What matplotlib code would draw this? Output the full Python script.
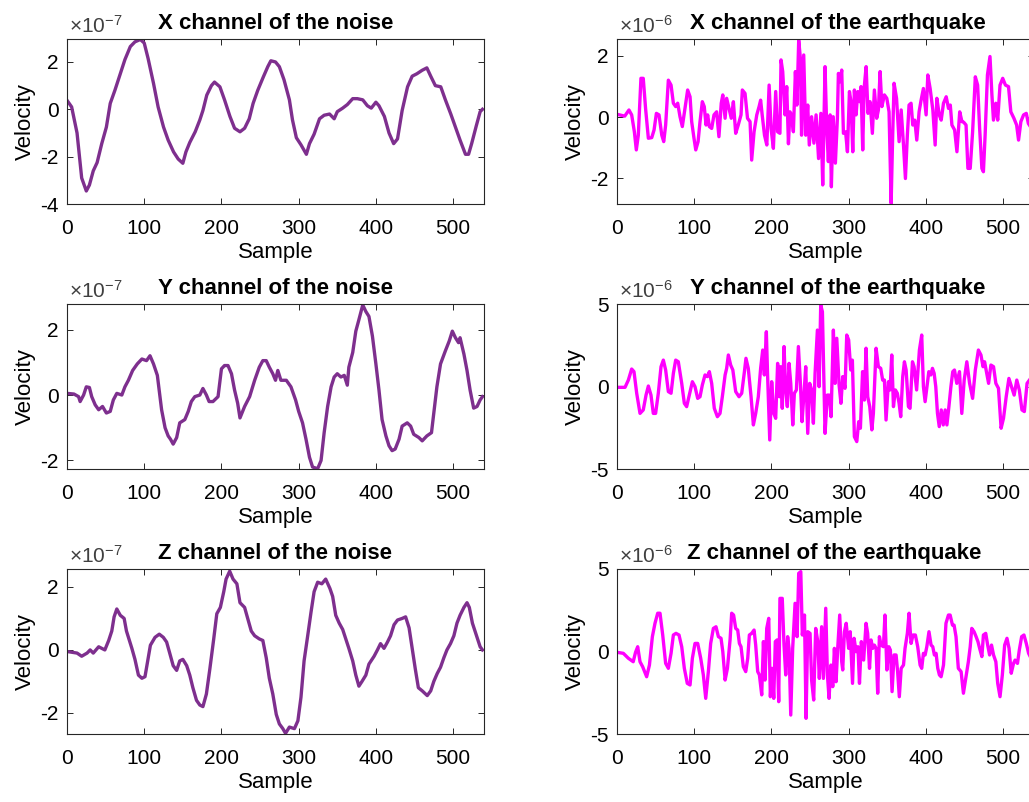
import numpy as np
import matplotlib
matplotlib.use("Agg")
import matplotlib.pyplot as plt

plt.rcParams['font.family'] = ['Liberation Sans', 'DejaVu Sans']
plt.rcParams['mathtext.fontset'] = 'custom'
plt.rcParams['mathtext.rm'] = 'Liberation Sans'
plt.rcParams['mathtext.it'] = 'Liberation Sans'
plt.rcParams['axes.unicode_minus'] = False

# (sample, velocity) pairs; noise in 1e-7, earthquake in 1e-6
noise_scale = 1e-7
quake_scale = 1e-6

noise_x = [(0, 0.38), (6, 0.1), (13, -1.0), (19, -2.9), (25, -3.45), (29, -3.2), (34, -2.6),
           (39, -2.25), (45, -1.45), (51, -0.75), (56, 0.25), (62, 0.8), (69, 1.5), (75, 2.1),
           (82, 2.65), (88, 2.85), (95, 2.95), (100, 2.8), (105, 2.15), (112, 1.1), (118, 0.1),
           (125, -0.75), (131, -1.3), (138, -1.8), (144, -2.1), (150, -2.28), (154, -1.8),
           (159, -1.4), (166, -0.95), (172, -0.45), (176, -0.05), (181, 0.6), (187, 1.0),
           (191, 1.15), (198, 0.95), (204, 0.4), (211, -0.3), (217, -0.8), (224, -0.95),
           (230, -0.8), (236, -0.4), (241, 0.25), (247, 0.8), (254, 1.35), (260, 1.8),
           (264, 2.05), (270, 2.0), (275, 1.8), (281, 1.25), (288, 0.4), (292, -0.45),
           (297, -1.2), (303, -1.5), (310, -1.9), (314, -1.45), (320, -1.05), (327, -0.4),
           (333, -0.25), (340, -0.2), (346, -0.4), (350, -0.1), (357, 0.05), (363, 0.2),
           (370, 0.45), (376, 0.45), (383, 0.4), (389, 0.15), (394, 0.05), (400, 0.3),
           (404, 0.15), (411, -0.3), (417, -1.0), (423, -1.45), (428, -1.25), (434, -0.05),
           (441, 0.95), (447, 1.4), (453, 1.5), (460, 1.65), (466, 1.75), (471, 1.4),
           (477, 1.0), (484, 0.95), (490, 0.4), (497, -0.2), (503, -0.75), (509, -1.3),
           (516, -1.9), (520, -1.9), (524, -1.45), (530, -0.7), (535, -0.1), (538, 0.0)]

noise_y = [(0, 0.05), (9, 0.03), (15, -0.05), (17, -0.2), (21.5, 0.0), (25, 0.25), (29, 0.23),
           (32, -0.05), (36.5, -0.3), (41, -0.45), (46, -0.35), (51, -0.55), (56, -0.5),
           (60, -0.15), (64.5, 0.05), (71, 0.0), (75, 0.25), (79.5, 0.45), (85, 0.75),
           (91, 0.95), (97, 1.1), (103, 1.05), (107.5, 1.2), (112, 0.95), (117, 0.6),
           (122.5, -0.45), (127, -1.0), (131, -1.25), (134, -1.35), (137.5, -1.5), (142, -1.3),
           (146, -0.85), (152.6, -0.75), (157, -0.5), (161, -0.2), (165.5, -0.05), (172, 0.0),
           (176, 0.2), (180.5, 0.0), (184, -0.2), (189, -0.2), (195.6, -0.05), (200, 0.8),
           (204, 0.9), (208.5, 0.9), (213, 0.65), (217, 0.15), (221, -0.25), (224, -0.7),
           (230, -0.35), (236.5, -0.05), (243, 0.45), (249, 0.85), (253.6, 1.05), (258, 1.05),
           (262, 0.85), (266.5, 0.65), (270, 0.45), (273, 0.75), (277, 0.45), (284, 0.45),
           (290, 0.25), (296, -0.15), (300, -0.5), (305, -0.85), (309.5, -1.35), (314, -1.9),
           (318, -2.2), (324.6, -2.25), (329, -2.0), (333, -1.15), (337.5, -0.35), (342, 0.25),
           (346, 0.55), (350, 0.65), (354.7, 0.55), (359, 0.6), (363, 0.3), (365, 0.85),
           (370, 1.3), (374, 1.95), (378, 2.3), (383, 2.75), (387, 2.55), (391, 2.4),
           (395.5, 1.8), (400, 0.95), (404, 0.15), (408, -0.75), (413, -1.25), (417, -1.55),
           (421, -1.7), (425, -1.65), (430, -1.35), (434, -0.95), (440.6, -0.85), (445, -0.95),
           (449, -1.2), (455.7, -1.3), (460, -1.4), (466, -1.25), (472, -1.15), (475, -0.55),
           (479, 0.25), (483.7, 0.95), (490, 1.35), (495, 1.65), (499, 1.95), (503, 1.75),
           (507, 1.6), (509, 1.75), (514, 1.25), (518, 0.75), (522, 0.15), (526.6, -0.4),
           (531, -0.35), (535, -0.15), (538, -0.05)]

noise_z = [(0, -0.05), (13, -0.1), (19, -0.2), (26, -0.1), (30, 0.0), (34, -0.1), (41, 0.1),
           (45, 0.05), (49, 0.0), (54, 0.3), (58, 0.6), (61, 1.05), (64.5, 1.3), (69, 1.1),
           (74, 1.0), (77, 0.6), (84, 0.05), (88, -0.3), (92.5, -0.8), (97, -0.9), (101, -0.85),
           (104.5, -0.35), (108, 0.15), (114, 0.4), (119.5, 0.5), (124.7, 0.4), (129, 0.25),
           (133, -0.1), (137.5, -0.5), (142, -0.65), (146, -0.35), (150, -0.3), (155, -0.5),
           (159, -0.8), (163, -1.2), (167.7, -1.6), (172, -1.75), (176, -1.8), (180.5, -1.4),
           (185, -0.6), (190, 0.35), (194, 1.15), (198.6, 1.35), (203, 1.85), (206, 2.25),
           (210.7, 2.5), (215, 2.25), (220, 2.1), (224, 1.5), (230, 1.35), (234, 1.0),
           (238.6, 0.6), (243, 0.45), (249, 0.35), (253.6, 0.3), (258, -0.25), (262, -0.9),
           (266.5, -1.4), (271, -2.05), (275, -2.35), (279.5, -2.5), (283, -2.65), (288, -2.45),
           (294.5, -2.5), (299, -2.25), (303, -1.5), (307, -0.35), (311.7, 0.45), (316, 1.2),
           (320, 1.85), (324.6, 2.15), (330, 2.1), (335, 2.25), (340.5, 1.95), (344, 1.7),
           (348, 1.1), (352.5, 0.85), (357, 0.65), (361, 0.35), (365, 0.05), (370, -0.35),
           (374, -0.8), (378, -1.15), (382, -1.0), (387, -0.8), (391, -0.45), (397.7, -0.2),
           (402, 0.0), (406, 0.2), (410.5, 0.05), (415, 0.25), (419, 0.45), (423.5, 0.8),
           (428, 0.95), (434, 1.0), (438.5, 1.05), (443, 0.7), (447, 0.05), (451, -0.6),
           (455, -1.2), (460, -1.3), (466.5, -1.45), (471, -1.3), (475, -1.0), (479.4, -0.75),
           (483.7, -0.55), (488, -0.25), (492, 0.0), (496.6, 0.2), (501, 0.45), (505, 0.85),
           (509, 1.1), (514, 1.35), (518, 1.5), (521, 1.35), (525, 0.85), (531, 0.4),
           (535, 0.1), (538, 0.0)]

quake_x = [(0, 0.09), (10, 0.03), (15.5, 0.23), (19, 0.07), (22.5, -0.48), (25, -1.07),
           (27.6, -0.59), (31, 1.26), (34, 1.26), (37, 0.28), (40.6, -0.69), (45, -0.67),
           (48, -0.42), (51, 0.12), (54.4, 0.07), (58, -0.59), (60.5, -0.8), (63, -0.26),
           (66.5, 1.2), (70, 1.04), (73, 0.45), (76, 0.34), (78.6, 0.45), (81.6, 0.01),
           (84.6, -0.31), (88, 0.28), (91.5, 0.88), (94.6, 0.66), (96.7, -0.15), (99.7, -0.69),
           (102, -1.07), (105, -0.8), (107.5, -0.15), (110.5, 0.5), (113, 0.34), (115.3, -0.26),
           (117.4, 0.07), (119.6, -0.31), (122.6, -0.37), (125.6, 0.07), (129, 0.17),
           (132, -0.64), (135, 0.45), (137, 0.72), (140, -0.04), (142, 0.61), (145, 0.28),
           (148, -0.04), (150.7, 0.5), (153.7, -0.53), (157, -0.26), (160.6, 0.07),
           (162.3, 0.88), (165.8, 0.77), (169, -0.04), (172.3, -0.15), (174.4, -1.4),
           (177.5, -0.48), (181, 0.07), (184, 0.34), (186, 0.55), (188, 0.07), (191, -0.59),
           (194, -0.91), (197, 1.04), (199.5, -0.37), (202.5, -1.02), (205.5, 0.83),
           (208, -0.48), (211, -0.53), (212.4, 1.86), (214.6, 1.48), (217.6, 0.07),
           (219.8, 0.99), (222, -0.87), (224, 0.17), (226, 0.07), (228.4, -0.48), (231, 1.48),
           (233, 0.39), (235.3, 2.5), (237.5, 1.91), (239, -0.59), (241.8, 2.02), (244.4, -0.59),
           (247, 0.39), (249, -0.91), (252, 0.01), (255, -0.85), (257.8, 0.07), (261, -1.35),
           (264, 0.12), (266.4, -2.21), (269.4, 1.64), (271.6, -0.37), (273.7, -1.45),
           (276, 0.07), (277.6, -2.27), (280, 0.01), (282.8, -1.5), (285.4, -0.04),
           (286.7, 1.42), (289, 1.15), (291, 1.53), (293.2, -0.53), (296, -0.48),
           (298.4, -1.13), (301, 0.83), (303, 0.5), (305.3, -1.13), (307.4, 0.88),
           (309.6, 0.07), (311.8, 0.83), (314, 0.5), (316, 0.99), (318.2, -1.07), (320, 0.93),
           (322.6, 1.64), (325, 0.12), (327.7, 0.5), (330.7, -0.53), (333.3, 0.88),
           (336.3, -0.04), (338.5, 0.23), (340.7, 1.48), (343, 0.34), (346.3, 0.72),
           (349.4, 0.61), (352.3, 0.17), (355, -2.81), (357, -0.59), (358.8, 1.1), (362, 0.61),
           (365.3, -0.8), (368, 0.23), (371, -0.91), (373.5, -2.0), (376, -0.59), (378.2, 0.39),
           (380.8, 0.45), (383, -0.26), (385.6, -0.1), (388.2, -0.75), (391.2, 0.17),
           (393.8, 0.55), (396.8, 0.93), (400.3, 0.07), (402.5, 1.37), (405.5, 0.93),
           (409, 0.23), (412, -0.91), (414.2, 0.61), (417.3, 0.07), (419.8, -0.1),
           (422.8, 0.45), (426.3, 0.66), (429.3, 0.28), (431.6, 0.39), (433.7, -0.26),
           (437.2, -0.42), (440.2, -1.13), (443.8, 0.17), (446.7, -0.15), (449, -0.17),
           (452, -0.26), (454.4, -1.67), (457.4, -1.67), (460.5, -0.48), (464, 1.31),
           (467, 1.04), (469.6, -0.37), (472.5, -1.67), (474.5, -1.78), (476.7, -0.59),
           (479.7, 1.37), (483, 1.97), (485.5, 0.72), (487.5, -0.1), (490.5, 0.45),
           (493, -0.1), (496, 1.04), (499.5, 1.26), (503, 1.04), (507, 0.99), (510, 0.17),
           (514, -0.04), (517.5, -0.26), (520, -0.75), (523, -0.15), (526.5, 0.07),
           (530, 0.12), (532.7, -0.21), (535, -0.3)]

quake_y = [(0, -0.05), (10.4, -0.05), (14.7, 0.39), (19, 1.06), (22, 0.9), (25.5, -0.41),
           (29.8, -1.63), (34, -1.42), (37.6, -0.52), (40.6, 0.03), (44, -0.52), (47, -1.63),
           (50, -1.63), (53.5, -0.41), (57, 1.2), (60, 1.6), (63, 1.0), (66.5, -0.31),
           (70, -0.41), (73, 0.8), (76, 1.6), (79.4, 1.5), (83.8, 0.19), (87.2, -1.02),
           (90.2, -1.22), (94.6, -0.31), (97.6, 0.29), (101, -0.01), (104.5, -0.72),
           (107.5, -0.62), (110.5, 0.09), (114, 0.7), (117, 0.6), (119.6, 0.9), (122.6, 0.19),
           (126, -1.32), (130, -1.83), (133.4, -1.63), (136.4, -0.62), (140, 0.7), (142, 1.1),
           (144.2, 1.91), (147.2, 1.3), (150, 1.0), (153.7, -0.31), (158, -0.62),
           (161.5, -0.41), (165, 0.9), (167, 1.71), (170, 1.1), (173.6, -0.62), (176.6, -2.33),
           (179.6, -1.63), (183, -0.62), (186, 1.1), (188.7, 2.21), (190.8, 0.7), (193.4, 3.32),
           (195, 0.7), (197.8, -3.24), (200.3, 0.29), (203, -1.63), (205.5, -1.93), (208, 1.4),
           (210.3, -0.62), (212, 1.2), (214, -1.32), (216.3, 2.42), (218.5, -0.21),
           (220.6, -1.22), (222.8, 1.4), (225, 0.19), (227.6, -2.33), (229.7, -0.41),
           (232.3, -0.21), (234.9, 2.42), (237.5, 0.19), (239.6, -2.13), (242.2, -0.41),
           (244.4, 1.2), (247, -2.84), (249.5, 0.19), (252, -0.21), (254.3, -2.23),
           (256.5, 0.8), (259.5, 3.42), (261.7, -0.01), (263.8, 4.94), (266, 4.53),
           (269.4, -2.84), (272.4, -0.52), (275, -0.52), (277.2, -1.83), (280.2, 3.42),
           (282.4, 0.19), (284.6, 2.92), (287.6, 0.09), (290, -1.02), (292.3, 0.6),
           (295.3, -0.11), (297.5, 3.12), (300, 2.82), (302.7, 1.0), (304.8, 1.6),
           (307.4, -3.04), (310.5, -3.34), (313, -2.13), (315.2, -2.53), (318, 0.9),
           (320.4, -0.82), (322.5, 2.32), (324.7, -0.62), (327.3, -1.22), (330, -2.63),
           (332, -1.63), (335.5, 2.32), (338.5, 1.2), (341.5, 1.1), (344, 0.39), (346.3, 0.39),
           (348.4, -2.03), (351.5, 0.29), (353.6, -0.21), (355.8, 1.91), (358, -1.22),
           (360.5, -0.21), (363, -0.41), (365.3, -1.02), (367.4, -1.83), (370, 0.6),
           (372.2, 1.5), (374.4, 1.0), (377.4, -1.22), (379.5, -1.32), (382.6, 1.5),
           (384.7, 1.2), (388, -0.21), (391.6, 2.21), (394.6, 3.12), (396.8, -0.01),
           (399, -0.92), (401.2, -0.11), (403.8, 0.9), (406.4, 0.7), (408.5, 1.1),
           (410.7, 0.8), (412.8, -0.01), (415, -1.63), (417.3, -2.43), (419.9, -1.42),
           (422.5, -2.33), (425, -1.42), (427.2, -2.33), (429.8, -1.22), (432.4, -0.01),
           (434.8, 0.9), (437, 1.0), (440, 0.19), (443.5, 0.9), (446.5, -1.63), (449.6, 0.39),
           (453, 1.5), (456.6, 0.19), (460.5, -0.72), (464, 1.0), (468, 2.21), (471.3, 1.91),
           (474, 1.2), (476, 1.5), (478, 1.0), (481.2, 0.19), (484.2, 1.3), (487.6, 1.2),
           (490.6, 0.19), (494, -0.11), (497.4, -2.53), (500.5, -1.93), (504, -0.62),
           (507.5, 0.49), (510.8, -0.01), (514.3, -0.52), (517.7, 0.39), (521, -0.21),
           (524.4, -1.42), (527.5, -1.52), (531, 0.19), (535, 0.45)]

quake_z = [(0, -0.05), (8.2, -0.11), (14.7, -0.41), (21, -0.62), (24, -0.05), (26.8, 0.29),
           (29.8, -0.62), (33.2, -0.92), (38.4, -1.53), (42, -0.82), (45.8, 0.9), (49.2, 1.71),
           (52.7, 2.32), (55.7, 2.32), (59.2, 1.0), (63, -0.72), (66.5, -1.02), (70, -0.11),
           (73, 1.0), (76.4, 1.1), (80.3, 1.0), (83.8, 0.29), (87.2, -1.02), (91, -1.93),
           (94.6, -2.03), (97.6, -0.41), (101, 0.49), (104.5, 0.49), (108.4, -0.41),
           (111.8, -1.42), (114.9, -2.84), (118.3, -1.22), (121.3, 0.49), (124.8, 1.4),
           (128.2, 1.5), (131.3, 0.9), (134.7, 0.8), (137, -0.01), (140, -1.73), (143, -1.02),
           (146.4, 0.7), (148.5, 2.32), (151, 2.21), (153.7, 1.4), (156.3, 1.3), (158.5, 0.49),
           (160.6, 0.29), (163.6, -0.92), (166.7, -1.22), (169.3, -0.41), (171.4, 1.0),
           (174.4, 1.1), (177.5, 1.3), (179.6, 0.39), (182.2, -1.22), (184.4, -1.42),
           (187.4, -2.63), (189.6, 0.6), (191.7, -1.73), (193.9, 1.4), (196.5, 2.01),
           (198.6, -2.74), (200.8, -1.02), (203, -2.84), (205, 0.6), (207.3, 0.7),
           (209.4, -3.04), (211, 3.22), (214, 3.22), (216.3, 0.39), (218.5, -1.42), (221, 0.9),
           (222.8, 0.19), (225, -3.85), (227.5, 0.19), (230.6, 2.92), (233.2, 0.9),
           (235.3, 4.74), (238, 4.84), (240, 1.0), (242.8, 2.21), (244.8, -4.05), (247, 1.2),
           (250, 1.1), (252, -1.73), (254.7, -2.94), (257.3, 1.4), (260, 0.6), (262, -1.63),
           (265, 1.5), (267.3, -1.63), (270.3, 2.62), (272.5, -1.42), (274.6, -2.84),
           (277, -0.82), (279.4, -2.13), (281.5, 0.19), (283.7, -1.83), (285.8, 0.19),
           (288.4, 2.21), (291, -0.62), (292.3, -1.12), (294.5, 1.2), (296.8, 1.71),
           (300, 0.19), (302, 1.2), (305, -1.93), (307, 0.8), (309.6, -0.01), (312, 0.29),
           (314, -1.93), (316.4, 0.6), (319.4, -0.52), (322.5, 1.71), (324.6, 1.1),
           (327, -1.02), (329, 0.7), (331.2, 0.19), (333.3, 0.39), (335.5, 0.19),
           (337.6, -2.53), (339.8, 0.9), (342, 0.39), (345, 0.29), (347, 2.21), (349.5, -1.12),
           (352, 0.29), (354, 0.09), (356.2, -2.43), (358.8, -0.21), (361.4, -0.21),
           (363.4, -1.22), (365.6, -2.74), (368, -1.02), (371, -0.82), (373, 0.19), (376, 1.1),
           (378.2, 2.32), (380.8, 0.49), (383.3, 1.0), (386.4, 1.0), (389.4, 0.29),
           (392.5, -0.82), (394.6, -1.02), (396.8, -0.11), (399, -0.21), (401.2, 0.29),
           (404, 1.2), (406.7, 0.39), (408.9, 0.29), (411, -0.21), (413.2, -0.11),
           (415.4, -1.02), (417.5, -1.42), (419.7, -1.53), (422.8, -0.82), (426, 1.71),
           (429.2, 2.21), (431.4, 2.21), (434.4, 1.6), (436.5, 1.6), (439, 0.9), (442, -1.02),
           (445.6, -1.22), (448.6, -2.53), (452, -1.53), (455, -0.62), (457.4, 0.29),
           (459.4, 1.4), (462.4, 1.2), (465, 0.9), (467.4, 0.6), (469.6, 0.19), (472.5, -0.31),
           (474.5, 1.0), (477.5, 1.1), (480, 0.39), (482.5, -0.21), (485, 0.39),
           (487.6, -0.21), (490.6, -0.62), (493, -1.93), (496, -2.74), (499, -1.42),
           (502, 0.39), (505, 0.8), (507.7, 0.19), (510.5, -1.32), (513.5, -0.72),
           (515.5, -0.52), (518.6, -0.72), (521, 0.09), (524, 0.9), (527, 1.0), (530, 0.49),
           (533, -0.11), (535, -0.3)]

titles = ["X channel of the noise", "X channel of the earthquake",
          "Y channel of the noise", "Y channel of the earthquake",
          "Z channel of the noise", "Z channel of the earthquake"]
series = [noise_x, quake_x, noise_y, quake_y, noise_z, quake_z]
ylims = [(-4, 2.97), (-2.83, 2.54), (-2.26, 2.78), (-5, 5), (-2.67, 2.57), (-5, 5)]
yticks = [[-4, -2, 0, 2], [-2, 0, 2], [-2, 0, 2], [-5, 0, 5], [-2, 0, 2], [-5, 0, 5]]
exponents = ["-7", "-6", "-7", "-6", "-7", "-6"]
title_x = [0.5, 0.529, 0.5, 0.53, 0.5, 0.52]

purple = '#7E2F8E'
magenta = '#FF00FF'
axcol = '#262626'

W, H = 1029, 802
fig = plt.figure(figsize=(W / 100, H / 100), dpi=100)
lefts = [67, 617]
tops = [39, 304, 569]
aw, ah = 417, 165

for i in range(6):
    row, col = i // 2, i % 2
    ax = fig.add_axes([lefts[col] / W, 1 - (tops[row] + ah) / H, aw / W, ah / H])
    data = np.array(series[i])
    color = purple if col == 0 else magenta
    ax.plot(data[:, 0], data[:, 1], color=color, lw=2.4, solid_joinstyle='round')
    ax.set_xlim(0, 540)
    ax.set_ylim(*ylims[i])
    ax.set_xticks([0, 100, 200, 300, 400, 500])
    ax.set_yticks(yticks[i])
    ax.tick_params(direction='in', top=True, right=True, length=4, width=0.7,
                   labelsize=15, colors=axcol, labelcolor='black')
    ax.tick_params(axis='x', pad=11)
    ax.tick_params(axis='y', pad=6)
    for sp in ax.spines.values():
        sp.set_color(axcol)
        sp.set_linewidth(0.8)
    ax.set_xlabel("Sample", fontsize=16, labelpad=3)
    ax.set_ylabel("Velocity", fontsize=16, labelpad=3)
    ax.set_title(titles[i], fontsize=16, fontweight='bold', x=title_x[i], pad=7)
    ax.text(0.005, 1.015, r'$\times10^{%s}$' % exponents[i], transform=ax.transAxes,
            fontsize=15, color='#404040', ha='left', va='bottom')

fig.savefig("out.png", dpi=100)
